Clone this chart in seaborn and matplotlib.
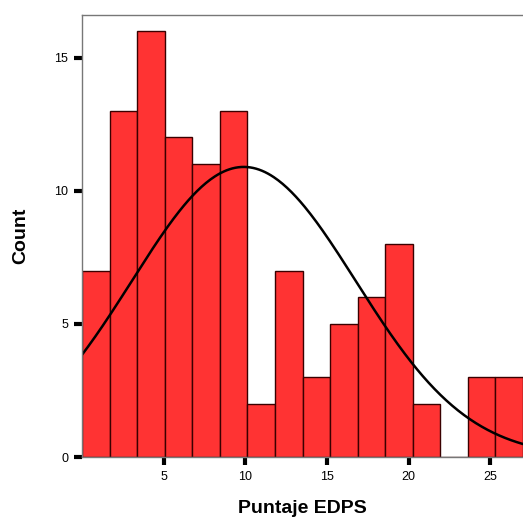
import numpy as np
import pandas as pd
import matplotlib
matplotlib.use("Agg")
import matplotlib.pyplot as plt
import seaborn as sns

# histogram: 16 bins from 0 to 27
bin_edges = list(np.linspace(0, 27, 17))
counts = [7, 13, 16, 12, 11, 13, 2, 7, 3, 5, 6, 8, 2, 0, 3, 3]
# fitted normal curve parameters
curve_mean = 9.9
curve_sd = 6.86

sns.set_style("white")
plt.rcParams['font.family'] = ['Liberation Sans', 'DejaVu Sans']

bin_centers = [(a + b) / 2 for a, b in zip(bin_edges[:-1], bin_edges[1:])]
df = pd.DataFrame({"score": bin_centers, "n": counts})
n_total = sum(counts)
bin_width = bin_edges[1] - bin_edges[0]

fig = plt.figure(figsize=(5.23, 5.25), dpi=100)
ax = fig.add_axes([0.157, 0.1295, 0.843, 0.842])

sns.histplot(data=df, x="score", weights="n", bins=bin_edges, ax=ax,
             color="#ff3333", alpha=1, edgecolor="#3a0000", linewidth=1)

xs = np.linspace(0, 27, 300)
ys = n_total * bin_width / (curve_sd * np.sqrt(2 * np.pi)) * np.exp(-(xs - curve_mean) ** 2 / (2 * curve_sd ** 2))
sns.lineplot(x=xs, y=ys, ax=ax, color="black", linewidth=1.8)

ax.set_xlim(0, 27)
ax.set_ylim(0, 16.6)
ax.set_xticks([5, 10, 15, 20, 25])
ax.set_yticks([0, 5, 10, 15])
ax.tick_params(axis="both", direction="out", length=6, width=3, color="black",
               labelsize=9, pad=4, labelcolor="black", bottom=True, left=True)

for side in ["top", "left", "bottom"]:
    ax.spines[side].set_color("#777777")
    ax.spines[side].set_linewidth(1)
ax.spines["right"].set_visible(False)

ax.set_xlabel("Puntaje EDPS", fontsize=14, fontweight="bold", labelpad=12, color="black")
ax.set_ylabel("Count", fontsize=14, fontweight="bold", labelpad=18, color="black")

fig.savefig("out.png", dpi=100)
